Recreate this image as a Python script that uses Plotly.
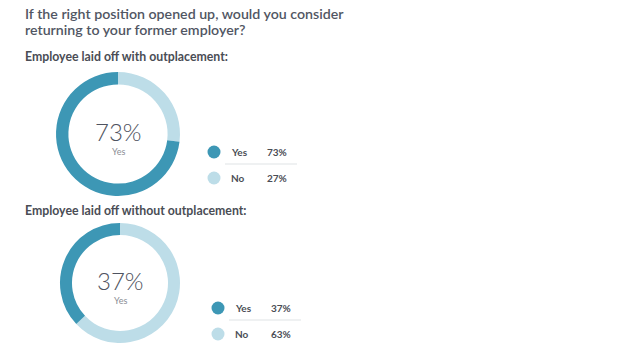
import plotly.graph_objects as go

W, H = 630, 358
title_lines = ["If the right position opened up, would you consider", "returning to your former employer?"]
groups = ["Employee laid off with outplacement:", "Employee laid off without outplacement:"]
labels = ["Yes", "No"]
values_with = [73, 27]
values_without = [37, 63]
colors = ["#3d97b5", "#bddde8"]

all_values = [values_with, values_without]
# pixel layout of each panel (screen pixels): donut centre, radius, subtitle y, legend position
panels = [
    dict(cx=118, cy=134, r=62, sub_y=56, lx=214, ly=152),
    dict(cx=120, cy=283, r=60, sub_y=210, lx=218, ly=308),
]


def px2x(px):
    return px / W


def px2y(py):
    return 1 - py / H


fig = go.Figure()
ann = []
shapes = []
txt = "#4a4d55"

for vals, p, g in zip(all_values, panels, groups):
    # draw No first clockwise from 12 o'clock so Yes fills the left side
    fig.add_trace(go.Pie(
        labels=labels[::-1], values=vals[::-1], hole=0.8, sort=False,
        direction="clockwise", rotation=0,
        marker=dict(colors=colors[::-1], line=dict(width=0)),
        textinfo="none", hoverinfo="label+percent", showlegend=False,
        domain=dict(x=[px2x(p["cx"] - p["r"]), px2x(p["cx"] + p["r"])],
                    y=[px2y(p["cy"] + p["r"]), px2y(p["cy"] - p["r"])]),
    ))
    ann.append(dict(x=23, y=p["sub_y"], text="<b>" + g + "</b>", xref="x", yref="y",
                    xanchor="left", yanchor="middle", showarrow=False,
                    font=dict(family="Lato", size=12.3, color=txt)))
    ann.append(dict(x=p["cx"], y=p["cy"] - 3, text=f"{vals[0]}%", xref="x", yref="y",
                    showarrow=False, xanchor="center", yanchor="middle",
                    font=dict(family="Lato", size=24, color="#4f5360", weight=300)))
    ann.append(dict(x=p["cx"], y=p["cy"] + 17, text=labels[0], xref="x", yref="y",
                    showarrow=False, xanchor="center", yanchor="middle",
                    font=dict(family="Lato", size=9, color="#8a8d94")))
    # legend
    fig.add_trace(go.Scatter(
        x=[p["lx"], p["lx"]], y=[p["ly"], p["ly"] + 26], mode="markers",
        marker=dict(size=13, color=colors, line=dict(width=0)),
        showlegend=False, hoverinfo="skip", xaxis="x", yaxis="y"))
    for i, (lab, v) in enumerate(zip(labels, vals)):
        yy = p["ly"] + 26 * i
        ann.append(dict(x=p["lx"] + 15, y=yy, text="<b>" + lab + "</b>", xref="x", yref="y",
                        showarrow=False, xanchor="left", yanchor="middle",
                        font=dict(family="Lato", size=10, color=txt)))
        ann.append(dict(x=p["lx"] + 51, y=yy, text="<b>" + f"{v}%" + "</b>", xref="x", yref="y",
                        showarrow=False, xanchor="left", yanchor="middle",
                        font=dict(family="Lato", size=10, color=txt)))
    shapes.append(dict(type="line", xref="x", yref="y", x0=p["lx"] + 11, x1=p["lx"] + 83,
                       y0=p["ly"] + 12, y1=p["ly"] + 12,
                       line=dict(color="#dfe3e6", width=1.2)))

for i, t in enumerate(title_lines):
    ann.append(dict(x=23, y=13.5 + 16 * i, text=t, xref="x", yref="y", showarrow=False,
                    xanchor="left", yanchor="middle",
                    font=dict(family="Lato", size=14.2, color="#515663", weight=600)))

fig.update_layout(
    width=W, height=H, margin=dict(l=0, r=0, t=0, b=0),
    paper_bgcolor="white", plot_bgcolor="rgba(0,0,0,0)",
    xaxis=dict(range=[0, W], visible=False, fixedrange=True, domain=[0, 1]),
    yaxis=dict(range=[H, 0], visible=False, fixedrange=True, domain=[0, 1]),
    annotations=ann, shapes=shapes,
)
fig.write_html("out.html", config={"displayModeBar": False},
               post_script="document.body.style.margin='0';document.body.style.overflow='hidden';")
